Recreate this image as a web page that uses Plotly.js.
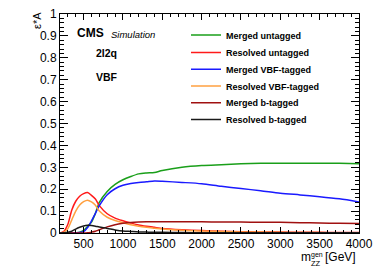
<!DOCTYPE html>
<html>
<head>
<meta charset="utf-8">
<script src="https://cdn.plot.ly/plotly-3.0.1.min.js"></script>
<style>html,body{margin:0;padding:0;background:#fff;}#chart{width:374px;height:268px;}</style>
</head>
<body>
<div id="chart"></div>
<script>
const mass = [200,250,300,350,400,450,500,550,600,650,700,800,900,1000,1100,1200,1300,1400,1500,1750,2000,2250,2500,2750,3000,3250,3500,3750,4000];
const mergedUntagged   = [0,0,0,0,0.001,0.003,0.012,0.03,0.05,0.09,0.14,0.19,0.222,0.243,0.258,0.27,0.274,0.276,0.285,0.3,0.308,0.312,0.316,0.318,0.318,0.318,0.319,0.318,0.316];
const resolvedUntagged = [0,0.008,0.04,0.105,0.145,0.168,0.18,0.185,0.172,0.155,0.125,0.088,0.068,0.056,0.046,0.037,0.031,0.026,0.021,0.015,0.011,0.008,0.006,0.005,0.004,0.003,0.003,0.002,0.002];
const mergedVBF        = [0,0,0,0,0.001,0.002,0.006,0.025,0.055,0.09,0.125,0.175,0.202,0.218,0.226,0.231,0.234,0.237,0.236,0.231,0.225,0.213,0.203,0.193,0.182,0.174,0.166,0.156,0.142];
const resolvedVBF      = [0,0.004,0.02,0.06,0.1,0.128,0.143,0.15,0.142,0.127,0.1,0.072,0.057,0.047,0.038,0.031,0.026,0.022,0.018,0.012,0.009,0.007,0.005,0.004,0.003,0.002,0.002,0.001,0.001];
const mergedBtag       = [0,0,0,0,0,0,0,0.001,0.004,0.008,0.015,0.028,0.038,0.044,0.048,0.05,0.051,0.051,0.051,0.051,0.051,0.05,0.05,0.049,0.049,0.047,0.046,0.044,0.043];
const resolvedBtag     = [0,0.001,0.003,0.008,0.018,0.026,0.032,0.035,0.034,0.031,0.027,0.021,0.014,0.009,0.007,0.005,0.004,0.003,0.003,0.002,0.001,0.001,0.001,0.001,0.001,0.001,0.001,0.001,0.001];

const names  = ["Merged untagged","Resolved untagged","Merged VBF-tagged","Resolved VBF-tagged","Merged b-tagged","Resolved b-tagged"];
const series = [mergedUntagged,resolvedUntagged,mergedVBF,resolvedVBF,mergedBtag,resolvedBtag];
const colors = ["#1a9f1a","#ff1a1a","#1a1aff","#ffa040","#a01010","#1a1a1a"];

const FONT = "Liberation Sans, Arial, sans-serif";
const legendKeys = ["legend","legend2","legend3","legend4","legend5","legend6"];
const rowY = [35, 52.5, 69.3, 86, 102.7, 119.5];
const plotTop = 14, plotBot = 233, plotL = 60, plotR = 359;
const py = v => (plotBot - v) / (plotBot - plotTop);
const px = v => (v - plotL) / (plotR - plotL);

const traces = series.map((s,i) => ({
  x: mass, y: s, type: "scatter", mode: "lines", name: names[i],
  line: {color: colors[i], width: 1.5, shape: "spline", smoothing: 0.8},
  legend: legendKeys[i], showlegend: true
}));

const layout = {
  width: 374, height: 268,
  margin: {l: plotL, r: 374 - plotR, t: plotTop, b: 268 - plotBot},
  paper_bgcolor: "#fff", plot_bgcolor: "#fff",
  font: {family: FONT, color: "#000"},
  showlegend: true,
  xaxis: {
    range: [200, 4000], tickvals: [500,1000,1500,2000,2500,3000,3500,4000],
    ticks: "inside", ticklen: 6, tickcolor: "#000", tickwidth: 1,
    minor: {dtick: 100, tick0: 0, ticks: "inside", ticklen: 3, tickcolor: "#000"},
    showline: true, linecolor: "#000", linewidth: 1, mirror: "allticks",
    showgrid: false, zeroline: false, tickfont: {size: 12, family: FONT}
  },
  yaxis: {
    range: [0, 1], dtick: 0.1, tick0: 0,
    ticks: "inside", ticklen: 8, tickcolor: "#000", tickwidth: 1,
    minor: {dtick: 0.02, tick0: 0, ticks: "inside", ticklen: 4, tickcolor: "#000"},
    showline: true, linecolor: "#000", linewidth: 1, mirror: "allticks",
    showgrid: false, zeroline: false, tickfont: {size: 12, family: FONT}
  },
  annotations: [
    {text: "<b>CMS</b>", xref: "paper", yref: "paper", x: px(75), y: py(33), xanchor: "left", yanchor: "middle", showarrow: false, font: {size: 12, family: FONT}},
    {text: "<i>Simulation</i>", xref: "paper", yref: "paper", x: px(109), y: py(34), xanchor: "left", yanchor: "middle", showarrow: false, font: {size: 9.5, family: FONT}},
    {text: "<b>2l2q</b>", xref: "paper", yref: "paper", x: px(94), y: py(53), xanchor: "left", yanchor: "middle", showarrow: false, font: {size: 10.5, family: FONT}},
    {text: "<b>VBF</b>", xref: "paper", yref: "paper", x: px(94), y: py(77), xanchor: "left", yanchor: "middle", showarrow: false, font: {size: 10.5, family: FONT}},
    {text: "ε*A", xref: "paper", yref: "paper", x: px(37), y: py(21), xanchor: "center", yanchor: "middle", textangle: -90, showarrow: false, font: {size: 11, family: FONT}},
    {text: "m", xref: "paper", yref: "paper", x: px(299), y: py(257), xanchor: "left", yanchor: "middle", showarrow: false, font: {size: 12, family: FONT}},
    {text: "gen", xref: "paper", yref: "paper", x: px(309.5), y: py(254.5), xanchor: "left", yanchor: "middle", showarrow: false, borderpad: 0, font: {size: 7, family: FONT}},
    {text: "ZZ", xref: "paper", yref: "paper", x: px(309.5), y: py(263.5), xanchor: "left", yanchor: "middle", showarrow: false, borderpad: 0, font: {size: 7.5, family: FONT}},
    {text: "[GeV]", xref: "paper", yref: "paper", x: px(323), y: py(257), xanchor: "left", yanchor: "middle", showarrow: false, font: {size: 12, family: FONT}}
  ]
};
legendKeys.forEach((k,i) => {
  layout[k] = {x: px(186), y: py(rowY[i]), xanchor: "left", yanchor: "middle", xref: "paper", yref: "paper",
    bgcolor: "rgba(0,0,0,0)", borderwidth: 0, font: {size: 9, family: FONT, color: "#000", weight: "bold"}};
});

Plotly.newPlot("chart", traces, layout, {staticPlot: true, displayModeBar: false});
</script>
</body>
</html>
